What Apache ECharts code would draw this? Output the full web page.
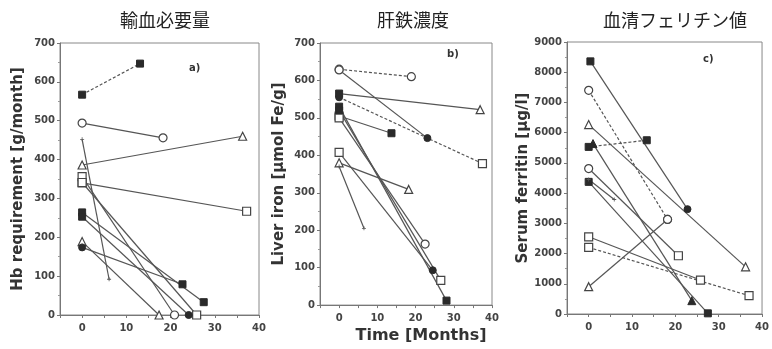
<!DOCTYPE html>
<html><head><meta charset="utf-8">
<script src="https://cdn.jsdelivr.net/npm/echarts@6/dist/echarts.min.js"></script>
<style>html,body{margin:0;padding:0;background:#fff}#c{width:772px;height:349px}</style>
</head><body><div id="c"></div>
<script>
// Tick labels
const xTickLabels = [0, 10, 20, 30, 40];
const hbYTicks = [0, 100, 200, 300, 400, 500, 600, 700];
const liverYTicks = [0, 100, 200, 300, 400, 500, 600, 700];
const ferYTicks = [0, 1000, 2000, 3000, 4000, 5000, 6000, 7000, 8000, 9000];

// Panel a: Hb requirement [g/month]
const hbStartT = [0, 0, 0, 0, 0, 0, 0, 0, 0, 0, 0];
const hbStartV = [567, 494, 386, 452, 340, 356, 341, 264, 253, 189, 174];
const hbEndT   = [13.1, 18.3, 36.3, 6.1, 37.2, 20.9, 25.9, 27.5, 24.1, 17.4, 22.7];
const hbEndV   = [647, 456, 460, 92, 267, 0, 0, 33, 0, 0, 79];
const hbStartMk = ['S','c','t','p','s','s','s','S','S','t','C'];
const hbEndMk   = ['S','c','t','p','s','c','s','S','C','t','S'];
const hbDashed  = [1,0,0,0,0,0,0,0,0,0,0];

// Panel b: Liver iron [umol Fe/g]
const liverStartT = [0, 0, 0, 0, 0, 0, 0, 0, 0, 0, 0];
const liverStartV = [630, 628, 555, 565, 505, 500, 530, 520, 408, 380, 370];
const liverEndT   = [18.9, 23.1, 37.5, 36.9, 13.7, 22.5, 28.1, 26.6, 24.5, 18.2, 6.5];
const liverEndV   = [610, 446, 378, 522, 459, 163, 12, 66, 93, 309, 205];
const liverStartMk = ['c','c','C','S','s','s','S','S','s','t','p'];
const liverEndMk   = ['c','C','s','t','S','c','S','s','C','t','p'];
const liverDashed  = [1,0,1,0,0,0,0,0,0,0,0];

// Panel c: Serum ferritin [ug/l]
const ferStartT = [0.4, 0, 0, 0, 1, 0, 0, 0, 0, 0, 0];
const ferStartV = [8359, 7401, 6267, 5529, 5639, 4813, 4372, 4450, 2555, 2203, 903];
const ferEndT   = [22.8, 18.2, 36.2, 13.4, 23.8, 20.7, 27.5, 5.9, 25.8, 37, 18.2];
const ferEndV   = [3469, 3128, 1560, 5749, 441, 1927, 22, 3789, 1123, 606, 3128];
const ferStartMk = ['S','c','t','S','T','c','S','p','s','s','t'];
const ferEndMk   = ['C','c','t','S','T','s','S','p','s','s','c'];
const ferDashed  = [0,1,0,1,0,0,0,0,0,1,0];

const PLUS = 'path://M4,0H6V4H10V6H6V10H4V6H0V4H4Z';
function mk(code) {
  const dark = '#2a2a2a';
  switch (code) {
    case 'S': return {symbol: 'rect', symbolSize: 7, itemStyle: {color: dark, borderColor: dark, borderWidth: 1}};
    case 's': return {symbol: 'rect', symbolSize: 8, itemStyle: {color: '#fff', borderColor: '#444', borderWidth: 1.2}};
    case 'C': return {symbol: 'circle', symbolSize: 7, itemStyle: {color: dark, borderColor: dark, borderWidth: 1}};
    case 'c': return {symbol: 'circle', symbolSize: 8, itemStyle: {color: '#fff', borderColor: '#444', borderWidth: 1.2}};
    case 'T': return {symbol: 'triangle', symbolSize: 8, itemStyle: {color: dark, borderColor: dark, borderWidth: 1}};
    case 't': return {symbol: 'triangle', symbolSize: 8, itemStyle: {color: '#fff', borderColor: '#444', borderWidth: 1.2}};
    default:  return {symbol: PLUS, symbolSize: 4, itemStyle: {color: '#555', borderWidth: 0}};
  }
}

function buildSeries(idx, st, sv, et, ev, smk, emk, dashed) {
  return st.map((_, i) => ({
    type: 'line',
    xAxisIndex: idx, yAxisIndex: idx,
    animation: false,
    silent: true,
    lineStyle: {color: '#555', width: 1.2, type: dashed[i] ? [3, 2] : 'solid'},
    data: [
      Object.assign({value: [st[i], sv[i]]}, mk(smk[i])),
      Object.assign({value: [et[i], ev[i]]}, mk(emk[i]))
    ]
  }));
}

const FONT = 'DejaVu Sans';
const labelFont = {color: '#444', fontSize: 10, fontWeight: 'bold', fontFamily: FONT};
const nameFont = {color: '#333', fontSize: 15, fontWeight: 'bold', fontFamily: FONT};
function xAxis(idx, name) {
  return {
    type: 'value', gridIndex: idx, min: -5, max: 40, interval: 5,
    name: name || '', nameLocation: 'middle', nameGap: 22,
    nameTextStyle: {color: '#333', fontSize: 16, fontWeight: 'bold', fontFamily: FONT, padding: [0, 0, 0, 30]},
    axisLine: {show: true, onZero: false, lineStyle: {color: '#777'}},
    axisTick: {show: true, length: 3, lineStyle: {color: '#777'}},
    axisLabel: Object.assign({margin: 8, formatter: v => xTickLabels.includes(v) ? String(v) : ''}, labelFont),
    splitLine: {show: false}
  };
}
function yAxis(idx, ticks, name, gap) {
  return {
    type: 'value', gridIndex: idx, min: ticks[0], max: ticks[ticks.length - 1],
    interval: ticks[1] - ticks[0],
    name: name, nameLocation: 'middle', nameGap: gap,
    nameTextStyle: nameFont,
    axisLine: {show: true, onZero: false, lineStyle: {color: '#777'}},
    axisTick: {show: true, length: 3, lineStyle: {color: '#777'}},
    minorTick: {show: true, splitNumber: 2, length: 2, lineStyle: {color: '#999'}},
    axisLabel: Object.assign({margin: 5, formatter: v => String(v)}, labelFont),
    splitLine: {show: false}
  };
}

const titleStyle = {color: '#222', fontSize: 18, fontWeight: 'normal', fontFamily: 'Noto Sans CJK JP'};
const option = {
  backgroundColor: '#fff',
  animation: false,
  title: [
    {text: '輸血必要量', left: 160, top: 6, textAlign: 'center', textStyle: titleStyle},
    {text: '肝鉄濃度', left: 408, top: 6, textAlign: 'center', textStyle: titleStyle},
    {text: '血清フェリチン値', left: 670, top: 6, textAlign: 'center', textStyle: titleStyle},
    {text: 'a)', left: 184, top: 58, textStyle: {color: '#333', fontSize: 10, fontWeight: 'bold', fontFamily: FONT}},
    {text: 'b)', left: 442, top: 44, textStyle: {color: '#333', fontSize: 10, fontWeight: 'bold', fontFamily: FONT}},
    {text: 'c)', left: 698, top: 49, textStyle: {color: '#333', fontSize: 10, fontWeight: 'bold', fontFamily: FONT}}
  ],
  grid: [
    {left: 60, top: 43, width: 199, height: 272, show: true, borderColor: '#888', borderWidth: 1},
    {left: 320, top: 43, width: 172, height: 271, show: true, borderColor: '#888', borderWidth: 1},
    {left: 567, top: 42, width: 197, height: 272, show: true, borderColor: '#888', borderWidth: 1}
  ],
  xAxis: [xAxis(0), xAxis(1, 'Time [Months]'), xAxis(2)],
  yAxis: [
    yAxis(0, hbYTicks, 'Hb requirement [g/month]', 34),
    yAxis(1, liverYTicks, 'Liver iron [µmol Fe/g]', 33),
    yAxis(2, ferYTicks, 'Serum ferritin [µg/l]', 36)
  ],
  series: [].concat(
    buildSeries(0, hbStartT, hbStartV, hbEndT, hbEndV, hbStartMk, hbEndMk, hbDashed),
    buildSeries(1, liverStartT, liverStartV, liverEndT, liverEndV, liverStartMk, liverEndMk, liverDashed),
    buildSeries(2, ferStartT, ferStartV, ferEndT, ferEndV, ferStartMk, ferEndMk, ferDashed)
  )
};
const chart = echarts.init(document.getElementById('c'), null, {renderer: 'canvas'});
chart.setOption(option);
</script></body></html>
